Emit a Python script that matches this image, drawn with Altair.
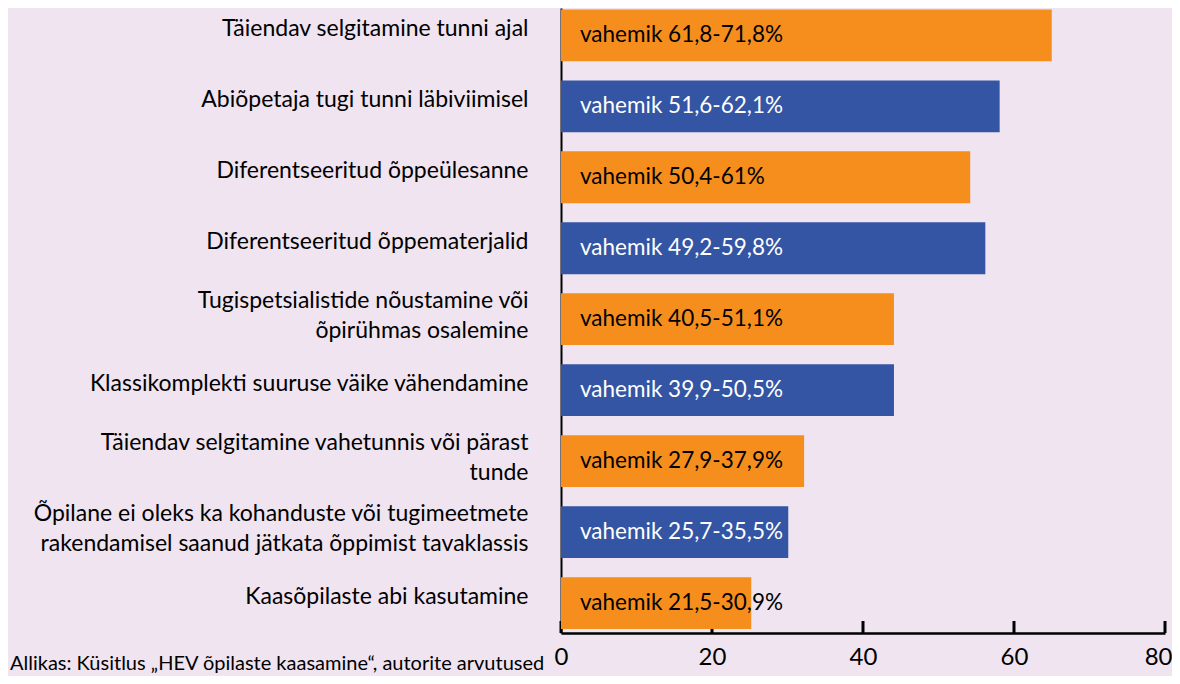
import altair as alt
import pandas as pd

categories = [
    "Täiendav selgitamine tunni ajal",
    "Abiõpetaja tugi tunni läbiviimisel",
    "Diferentseeritud õppeülesanne",
    "Diferentseeritud õppematerjalid",
    "Tugispetsialistide nõustamine või\nõpirühmas osalemine",
    "Klassikomplekti suuruse väike vähendamine",
    "Täiendav selgitamine vahetunnis või pärast\ntunde",
    "Õpilane ei oleks ka kohanduste või tugimeetmete\nrakendamisel saanud jätkata õppimist tavaklassis",
    "Kaasõpilaste abi kasutamine",
]
values = [65.0, 58.1, 54.2, 56.2, 44.1, 44.1, 32.2, 30.1, 25.2]
ranges = [
    "vahemik 61,8-71,8%",
    "vahemik 51,6-62,1%",
    "vahemik 50,4-61%",
    "vahemik 49,2-59,8%",
    "vahemik 40,5-51,1%",
    "vahemik 39,9-50,5%",
    "vahemik 27,9-37,9%",
    "vahemik 25,7-35,5%",
    "vahemik 21,5-30,9%",
]
groups = ["o", "b", "o", "b", "o", "b", "o", "b", "o"]
tick_values = [0, 20, 40, 60, 80]
source = "Allikas: Küsitlus „HEV õpilaste kaasamine“, autorite arvutused"

ORANGE = "#f68e1e"
BLUE = "#3454a4"
BG = "#efe4f0"
FONT = "Lato"
W, H = 604, 625

df = pd.DataFrame({
    "cat": categories,
    "val": values,
    "rng": ranges,
    "grp": groups,
    "tc": ["black" if g == "o" else "white" for g in groups],
})
ticks_df = pd.DataFrame({"t": tick_values})

x_scale = alt.Scale(domain=[0, 80], nice=False, zero=True)
y_scale = alt.Scale(paddingInner=0.27, paddingOuter=0.038, align=0.26)

x_axis = alt.Axis(
    values=tick_values, title=None, grid=False, ticks=False, tickSize=0,
    domain=True, domainColor="black", domainWidth=2.5,
    labelFont=FONT, labelFontSize=24, labelColor="black", labelPadding=12,
    labelFlush=True, labelFlushOffset=7,
)
y_axis = alt.Axis(
    title=None, ticks=False, domain=True, domainColor="black", domainWidth=2,
    labelFont=FONT, labelFontSize=23, labelColor="black", labelPadding=33,
    labelLimit=0, labelLineHeight=30,
    labelExpr="split(datum.label, '\\n')",
    labelOffset={"condition": {"test": "indexof(datum.label, '\\n') >= 0", "value": -18}, "value": -6},
)

tick_rules = alt.Chart(ticks_df).mark_rule(color="black", strokeWidth=3).encode(
    x=alt.X("t:Q", scale=x_scale, axis=x_axis),
    y=alt.value(H - 12),
    y2=alt.value(H),
)

bars = alt.Chart(df).mark_bar().encode(
    x=alt.X("val:Q", scale=x_scale, axis=x_axis),
    y=alt.Y("cat:N", sort=categories, scale=y_scale, axis=y_axis),
    color=alt.Color("grp:N", scale=alt.Scale(domain=["o", "b"], range=[ORANGE, BLUE]), legend=None),
)

labels = alt.Chart(df).mark_text(align="left", baseline="middle", dx=19, font=FONT, fontSize=22.5).encode(
    x=alt.datum(0),
    y=alt.Y("cat:N", sort=categories, scale=y_scale, axis=y_axis),
    text="rng:N",
    color=alt.Color("tc:N", scale=None),
)

chart = alt.layer(tick_rules, bars, labels).properties(
    width=W,
    height=H,
    background=BG,
    autosize=alt.AutoSizeParams(type="none"),
    padding={"left": 553, "top": 0, "right": 7, "bottom": 43},
    title=alt.TitleParams(
        text=source, orient="bottom", anchor="start", frame="group",
        dx=-551, offset=-15, font=FONT, fontSize=20, fontWeight="normal", color="black",
    ),
).configure_view(stroke=None)

chart.save("out.html", embed_options={"renderer": "svg", "actions": False})
